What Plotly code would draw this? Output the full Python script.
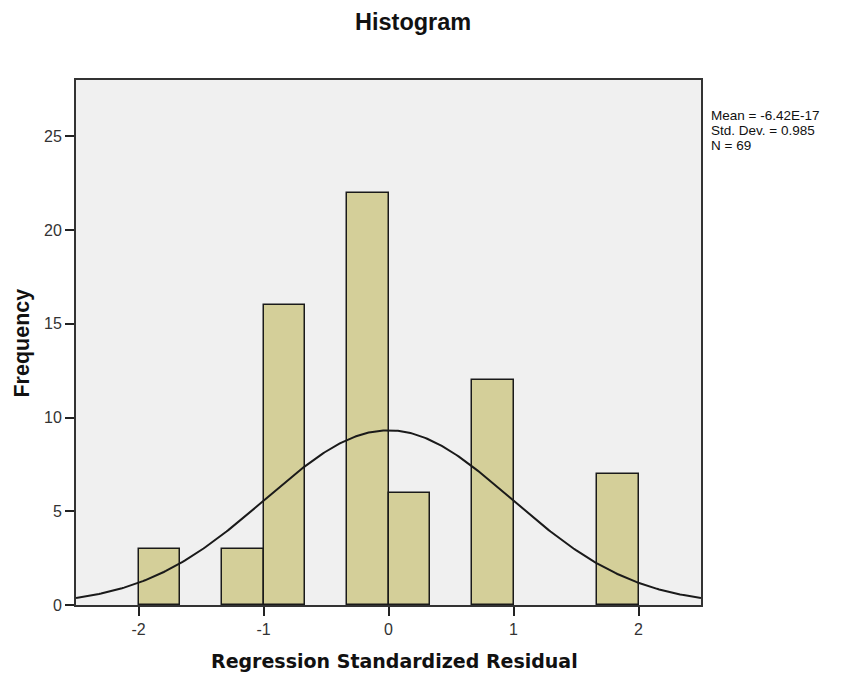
import numpy as np
import plotly.graph_objects as go

# Histogram bins (width 1/3) and counts
bin_starts = [-2.0, -4/3, -1.0, -1/3, 0.0, 2/3, 5/3]
counts = [3, 3, 16, 22, 6, 12, 7]
bin_width = 1/3

mean_val = -6.42e-17
sd_val = 0.985
n_val = 69

x_ticks = [-2, -1, 0, 1, 2]
x_ticktext = ["-2", "-1", "0", "1", "2"]
y_ticks = [0, 5, 10, 15, 20, 25]
stats_lines = ["Mean = -6.42E-17", f"Std. Dev. = {sd_val}", f"N = {n_val}"]

centers = [s + bin_width / 2 for s in bin_starts]

# Fitted normal curve (from stated mean, sd, N)
xc = np.linspace(-2.5, 2.5, 300)
yc = n_val * bin_width * np.exp(-0.5 * ((xc - mean_val) / sd_val) ** 2) / (sd_val * np.sqrt(2 * np.pi))

fig = go.Figure()
fig.add_trace(go.Bar(
    x=centers, y=counts, width=[bin_width] * len(counts),
    marker=dict(color="#D4CF99", line=dict(color="#1a1a1a", width=1.5)),
    hoverinfo="skip", showlegend=False))
fig.add_trace(go.Scatter(
    x=xc, y=yc, mode="lines", line=dict(color="#1a1a1a", width=2),
    hoverinfo="skip", showlegend=False))

font_family = "Liberation Sans, Arial, sans-serif"
annotations = [
    dict(text="<b>Histogram</b>", xref="paper", yref="paper", x=0.539, y=1.0,
         yshift=58, showarrow=False, font=dict(size=23.5, color="#111"), xanchor="center", yanchor="middle"),
    dict(text="<b>Regression Standardized Residual</b>", xref="paper", yref="paper",
         x=0.509, y=0, yshift=-56, showarrow=False,
         font=dict(size=19, color="#111", family="DejaVu Sans, Verdana, sans-serif"),
         xanchor="center", yanchor="middle"),
    dict(text="<b>Frequency</b>", xref="paper", yref="paper", x=0, xshift=-54,
         y=0.498, textangle=-90, showarrow=False, font=dict(size=21.5, color="#111"),
         xanchor="center", yanchor="middle"),
]
for i, line in enumerate(stats_lines):
    annotations.append(dict(text=line, xref="paper", yref="paper", x=1.0, xshift=8,
                            y=1.0, yshift=-35 - 15 * i, showarrow=False, align="left",
                            xanchor="left", yanchor="middle",
                            font=dict(size=13.5, color="#111")))

fig.update_layout(
    width=843, height=674,
    margin=dict(l=76, r=142, t=80, b=69),
    paper_bgcolor="white", plot_bgcolor="#F0F0F0",
    font=dict(family=font_family, color="#333333", size=14),
    bargap=0,
    xaxis=dict(range=[-2.5, 2.5], tickvals=x_ticks, ticktext=x_ticktext, ticks="outside", ticklen=9,
               tickcolor="#222", tickwidth=1.5, showgrid=False, zeroline=False,
               showline=True, linecolor="#333", linewidth=2, mirror=True,
               tickfont=dict(size=16, color="#333")),
    yaxis=dict(range=[0, 28], tickvals=y_ticks, ticks="outside", ticklen=9,
               tickcolor="#222", tickwidth=1.5, showgrid=False, zeroline=False,
               showline=True, linecolor="#333", linewidth=2, mirror=True,
               tickfont=dict(size=16, color="#333")),
    annotations=annotations,
)

fig.write_html("out.html")
